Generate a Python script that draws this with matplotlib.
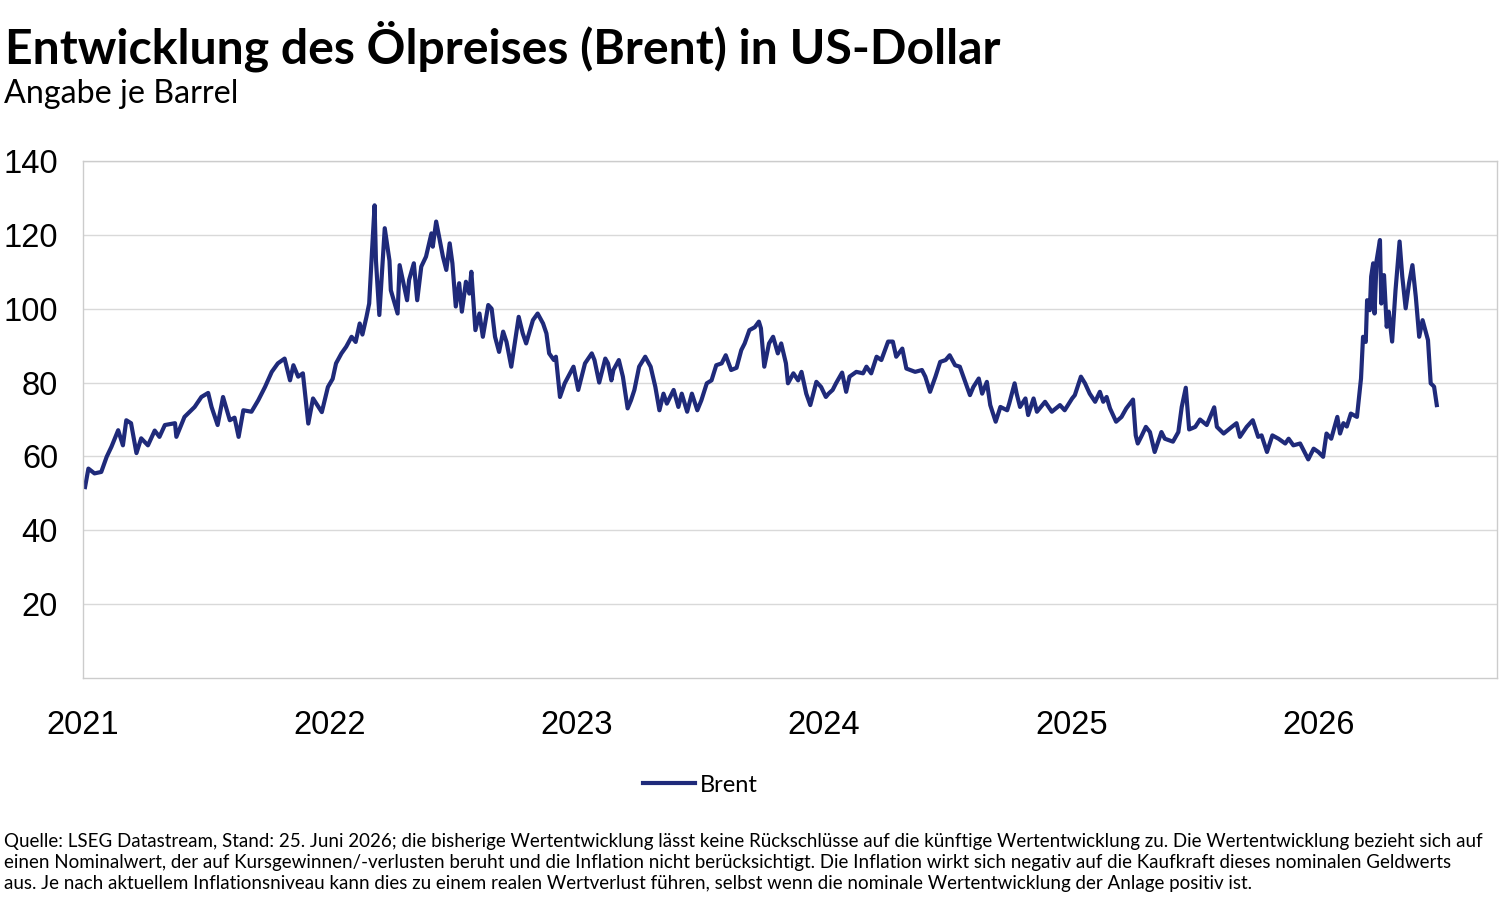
import matplotlib
matplotlib.use("Agg")
import matplotlib.pyplot as plt
import pandas as pd

# ---- data ----
dates = [
    "2021-01-04","2021-01-09","2021-01-18","2021-01-28","2021-02-05","2021-02-12","2021-02-22","2021-03-01",
    "2021-03-06","2021-03-13","2021-03-21","2021-03-28","2021-04-07","2021-04-17","2021-04-24","2021-05-02",
    "2021-05-17","2021-05-19","2021-05-31","2021-06-15","2021-06-25","2021-07-05","2021-07-10","2021-07-19",
    "2021-07-27","2021-08-06","2021-08-13","2021-08-19","2021-08-26","2021-09-07","2021-09-17","2021-09-27",
    "2021-10-07","2021-10-16","2021-10-26","2021-11-03","2021-11-08","2021-11-15","2021-11-22","2021-11-30",
    "2021-12-07","2021-12-20","2021-12-29",
    "2022-01-05","2022-01-10","2022-01-18","2022-01-25","2022-02-02","2022-02-08","2022-02-14","2022-02-18",
    "2022-02-24","2022-02-28","2022-03-04","2022-03-08","2022-03-10","2022-03-15","2022-03-23","2022-03-30",
    "2022-04-01","2022-04-11","2022-04-14","2022-04-25","2022-04-28","2022-05-05","2022-05-10","2022-05-16",
    "2022-05-23","2022-05-31","2022-06-02","2022-06-07","2022-06-17","2022-06-22","2022-06-27","2022-07-01",
    "2022-07-06","2022-07-11","2022-07-15","2022-07-21","2022-07-26","2022-07-29","2022-08-04","2022-08-10",
    "2022-08-15","2022-08-23","2022-08-28","2022-09-02","2022-09-08","2022-09-14","2022-09-19","2022-09-26",
    "2022-10-07","2022-10-13","2022-10-18","2022-10-28","2022-11-04","2022-11-12","2022-11-17","2022-11-21",
    "2022-11-28","2022-12-01","2022-12-07","2022-12-14","2022-12-27",
    "2023-01-03","2023-01-13","2023-01-23","2023-01-27","2023-02-03","2023-02-12","2023-02-16","2023-02-21",
    "2023-02-24","2023-03-04","2023-03-10","2023-03-17","2023-03-22","2023-03-27","2023-04-03","2023-04-12",
    "2023-04-20","2023-04-27","2023-05-03","2023-05-09","2023-05-14","2023-05-24","2023-05-31","2023-06-05",
    "2023-06-13","2023-06-20","2023-06-28","2023-07-04","2023-07-12","2023-07-19","2023-07-26","2023-08-03",
    "2023-08-09","2023-08-17","2023-08-25","2023-09-01","2023-09-06","2023-09-13","2023-09-21","2023-09-27",
    "2023-09-30","2023-10-05","2023-10-12","2023-10-18","2023-10-25","2023-10-30","2023-11-06","2023-11-09",
    "2023-11-17","2023-11-24","2023-11-29","2023-12-06","2023-12-12","2023-12-21","2023-12-28",
    "2024-01-04","2024-01-08","2024-01-14","2024-01-19","2024-01-28","2024-02-03","2024-02-08","2024-02-18",
    "2024-02-28","2024-03-04","2024-03-11","2024-03-19","2024-03-26","2024-04-05","2024-04-12","2024-04-17",
    "2024-04-26","2024-05-02","2024-05-15","2024-05-25","2024-05-30","2024-06-06","2024-06-14","2024-06-21",
    "2024-06-29","2024-07-05","2024-07-13","2024-07-20","2024-07-28","2024-08-04","2024-08-09","2024-08-17",
    "2024-08-22","2024-08-29","2024-09-03","2024-09-11","2024-09-18","2024-09-28","2024-10-01","2024-10-09",
    "2024-10-12","2024-10-17","2024-10-25","2024-10-29","2024-11-06","2024-11-11","2024-11-23","2024-12-03",
    "2024-12-15","2024-12-22",
    "2025-01-02","2025-01-06","2025-01-15","2025-01-21","2025-01-28","2025-02-05","2025-02-12","2025-02-17",
    "2025-02-22","2025-02-27","2025-03-08","2025-03-16","2025-03-23","2025-04-02","2025-04-06","2025-04-09",
    "2025-04-14","2025-04-21","2025-04-27","2025-05-04","2025-05-14","2025-05-19","2025-05-31","2025-06-08",
    "2025-06-13","2025-06-19","2025-06-24","2025-07-03","2025-07-10","2025-07-20","2025-07-31","2025-08-04",
    "2025-08-14","2025-08-26","2025-09-02","2025-09-07","2025-09-17","2025-09-26","2025-10-04","2025-10-09",
    "2025-10-17","2025-10-25","2025-11-03","2025-11-13","2025-11-18","2025-11-25","2025-12-05","2025-12-17",
    "2025-12-25",
    "2026-01-01","2026-01-08","2026-01-13","2026-01-20","2026-01-29","2026-02-02","2026-02-07","2026-02-12",
    "2026-02-18","2026-02-27","2026-03-05","2026-03-08","2026-03-12","2026-03-14","2026-03-18","2026-03-20",
    "2026-03-23","2026-03-25","2026-03-28","2026-04-02","2026-04-04","2026-04-08","2026-04-12","2026-04-15",
    "2026-04-20","2026-04-25","2026-05-01","2026-05-05","2026-05-10","2026-05-15","2026-05-20","2026-05-25",
    "2026-05-30","2026-06-04","2026-06-08","2026-06-12","2026-06-16","2026-06-21","2026-06-25",
]
brent = [
    51.7, 56.7, 55.4, 55.8, 59.9, 62.6, 67.1, 63.0,
    69.8, 69.0, 60.9, 64.9, 63.0, 67.0, 65.3, 68.5,
    69.0, 65.3, 70.7, 73.4, 76.1, 77.2, 73.4, 68.5,
    76.1, 69.8, 70.5, 65.3, 72.5, 72.1, 75.2, 78.8,
    82.9, 85.2, 86.5, 80.6, 84.7, 81.6, 82.5, 68.9,
    75.7, 72.0, 78.8,
    81.0, 85.2, 87.9, 89.7, 92.4, 91.0, 96.0, 93.0,
    97.8, 101.4, 115.0, 128.0, 113.0, 98.3, 121.8, 113.0,
    105.0, 98.7, 111.8, 102.3, 107.8, 112.3, 102.3, 111.4,
    114.1, 120.4, 116.8, 123.6, 114.1, 110.5, 117.7, 112.3,
    100.6, 106.9, 99.2, 107.3, 104.1, 110.0, 94.2, 98.7,
    92.4, 101.0, 100.0, 92.4, 88.3, 93.8, 91.0, 84.3,
    97.8, 93.3, 90.6, 96.9, 98.7, 96.0, 93.3, 87.9,
    86.1, 87.0, 76.1, 79.8, 84.3,
    78.0, 85.2, 87.9, 86.1, 80.0, 86.5, 85.2, 80.6,
    83.4, 86.1, 81.6, 73.0, 75.2, 78.0, 84.3, 87.0,
    84.3, 78.8, 72.5, 77.0, 74.3, 78.0, 73.4, 77.0,
    72.1, 77.0, 72.5, 75.2, 79.8, 80.6, 84.7, 85.2,
    87.4, 83.4, 84.0, 88.8, 90.6, 94.2, 95.0, 96.5,
    94.7, 84.3, 90.6, 92.4, 87.9, 90.6, 85.2, 79.8,
    82.5, 80.6, 82.9, 77.0, 73.9, 80.2, 78.8,
    76.1, 77.0, 78.0, 79.8, 82.7, 77.5, 81.6, 82.9,
    82.5, 84.3, 82.5, 87.0, 86.1, 91.1, 91.1, 87.0,
    89.2, 83.8, 82.9, 83.4, 81.6, 77.5, 81.6, 85.6,
    86.1, 87.4, 84.7, 84.3, 80.2, 76.6, 78.8, 81.1,
    77.0, 80.2, 73.9, 69.4, 73.4, 72.5, 74.3, 79.8,
    77.0, 73.4, 75.7, 71.2, 75.7, 72.1, 74.8, 72.1,
    73.9, 72.5,
    75.7, 76.6, 81.6, 79.8, 77.0, 74.8, 77.5, 74.8,
    76.1, 73.0, 69.4, 70.7, 73.0, 75.4, 65.7, 63.5,
    65.3, 68.0, 66.6, 61.2, 66.6, 64.8, 64.0, 66.6,
    73.4, 78.6, 67.3, 68.0, 70.0, 68.5, 73.3, 68.0,
    66.2, 68.0, 69.0, 65.3, 68.0, 69.8, 65.3, 65.7,
    61.2, 65.7, 64.8, 63.5, 64.8, 63.0, 63.5, 59.2,
    62.1,
    61.2, 59.9, 66.2, 64.8, 70.7, 66.2, 69.0, 68.1,
    71.6, 70.7, 81.1, 92.4, 91.0, 102.3, 99.6, 108.7,
    112.3, 98.7, 113.0, 118.6, 101.4, 109.1, 95.1, 99.2,
    91.1, 105.0, 118.2, 108.7, 100.1, 106.9, 111.8, 103.2,
    92.4, 96.9, 94.2, 91.5, 79.8, 78.9, 73.9,
]
series_name = "Brent"
y_ticks = [20, 40, 60, 80, 100, 120, 140]
x_tick_years = [2021, 2022, 2023, 2024, 2025, 2026]

title = "Entwicklung des Ölpreises (Brent) in US-Dollar"
subtitle = "Angabe je Barrel"
footnote = ("Quelle: LSEG Datastream, Stand: 25. Juni 2026; die bisherige Wertentwicklung lässt keine Rückschlüsse auf die künftige Wertentwicklung zu. Die Wertentwicklung bezieht sich auf\n"
            "einen Nominalwert, der auf Kursgewinnen/-verlusten beruht und die Inflation nicht berücksichtigt. Die Inflation wirkt sich negativ auf die Kaufkraft dieses nominalen Geldwerts\n"
            "aus. Je nach aktuellem Inflationsniveau kann dies zu einem realen Wertverlust führen, selbst wenn die nominale Wertentwicklung der Anlage positiv ist.")

# ---- figure ----
W, H = 1500, 898
fig = plt.figure(figsize=(W / 100, H / 100), dpi=100)
fig.patch.set_facecolor("white")

L, R, T, B = 83, 1497, 161, 678
ax = fig.add_axes([L / W, 1 - B / H, (R - L) / W, (B - T) / H])

x = pd.to_datetime(dates)
line_color = "#1f2a7a"
ax.plot(x, brent, color=line_color, lw=3.0, solid_joinstyle="round", label=series_name)

ax.set_ylim(0, 140)
ax.set_xlim(pd.Timestamp("2021-01-01"), pd.Timestamp("2026-09-22"))
ax.set_yticks(y_ticks)
ax.set_xticks([pd.Timestamp(f"{yr}-01-01") for yr in x_tick_years])
ax.set_xticklabels([str(yr) for yr in x_tick_years])
ax.grid(axis="y", color="#d9d9d9", lw=1)
ax.set_axisbelow(True)
for s in ax.spines.values():
    s.set_color("#cccccc")
    s.set_linewidth(1)
ax.tick_params(axis="both", length=0, labelsize=23.5, labelcolor="#000000")
ax.tick_params(axis="y", pad=18)
ax.tick_params(axis="x", pad=23)
for lab in ax.get_xticklabels() + ax.get_yticklabels():
    lab.set_fontfamily("Liberation Sans")

tf = "Lato"
fig.text(5 / W, 1 - 63 / H, title, fontsize=34.7, fontweight="bold", family=tf, va="baseline", ha="left")
fig.text(4 / W, 1 - 103 / H, subtitle, fontsize=23.2, family=tf, va="baseline", ha="left")

leg = fig.legend(loc="center", bbox_to_anchor=(700 / W, 1 - 785 / H), frameon=False,
                 prop={"family": tf, "size": 17}, handlelength=2.2, handletextpad=0.2)

fig.text(4 / W, 1 - 889 / H, footnote, fontsize=13.5, family=tf, va="baseline", ha="left",
         linespacing=1.3)

fig.savefig("out.png", dpi=100, facecolor="white")
